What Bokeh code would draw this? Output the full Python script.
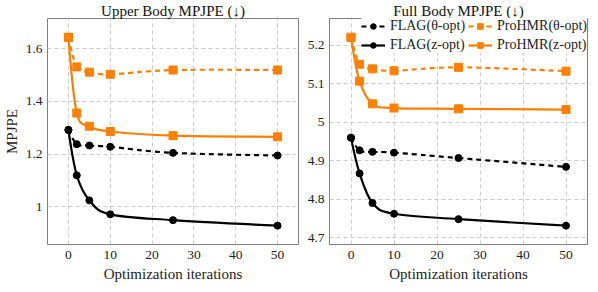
import numpy as np
from bokeh.plotting import figure
from bokeh.layouts import row
from bokeh.models import Range1d, FixedTicker, NumeralTickFormatter, Legend, LegendItem
from bokeh.embed import file_html
from bokeh.resources import INLINE

# ---- data ----
iters = [0, 2, 5, 10, 25, 50]
upper_flag_theta = [1.292, 1.238, 1.233, 1.228, 1.205, 1.195]
upper_flag_z = [1.292, 1.120, 1.025, 0.972, 0.950, 0.929]
upper_prohmr_theta = [1.643, 1.531, 1.511, 1.503, 1.519, 1.519]
upper_prohmr_z = [1.643, 1.356, 1.306, 1.286, 1.270, 1.266]
full_flag_theta = [4.960, 4.927, 4.923, 4.921, 4.907, 4.884]
full_flag_z = [4.960, 4.867, 4.790, 4.762, 4.748, 4.731]
full_prohmr_theta = [5.221, 5.151, 5.139, 5.134, 5.143, 5.133]
full_prohmr_z = [5.221, 5.107, 5.048, 5.037, 5.035, 5.033]

x_ticks = [0, 10, 20, 30, 40, 50]
upper_y_ticks = [1.0, 1.2, 1.4, 1.6]
full_y_ticks = [4.7, 4.8, 4.9, 5.0, 5.1, 5.2]

labels = ["FLAG(θ-opt)", "ProHMR(θ-opt)", "FLAG(z-opt)", "ProHMR(z-opt)"]
titles = ["Upper Body MPJPE (↓)", "Full Body MPJPE (↓)"]

ORANGE = "#ff8000"
BLACK = "#000000"
FONT = "Liberation Serif"
FIG_H = 284


def smooth_parts(xs, ys, k=0.17):
    xs = np.asarray(xs, float)
    ys = np.asarray(ys, float)
    n = len(xs)
    out = {key: [] for key in ["x0", "y0", "x1", "y1", "cx0", "cy0", "cx1", "cy1"]}
    for i in range(n - 1):
        x0, y0, x1, y1 = xs[i], ys[i], xs[i + 1], ys[i + 1]
        if i == 0:
            c0 = (x0, y0)
        else:
            c0 = (x0 + k * (xs[i + 1] - xs[i - 1]), y0 + k * (ys[i + 1] - ys[i - 1]))
        if i + 1 == n - 1:
            c1 = (x1, y1)
        else:
            c1 = (x1 - k * (xs[i + 2] - xs[i]), y1 - k * (ys[i + 2] - ys[i]))
        out["x0"].append(x0); out["y0"].append(y0)
        out["x1"].append(x1); out["y1"].append(y1)
        out["cx0"].append(c0[0]); out["cy0"].append(c0[1])
        out["cx1"].append(c1[0]); out["cy1"].append(c1[1])
    return out


def make_panel(title, series, y_ticks, width, border_left, border_right, ylabel=None, legend=False):
    ys_all = np.concatenate([np.asarray(s[0]) for s in series])
    lo, hi = ys_all.min(), ys_all.max()
    pad = 0.1 * (hi - lo)
    p = figure(width=width, height=FIG_H, output_backend="svg", toolbar_location=None,
               x_range=Range1d(-5, 55), y_range=Range1d(lo - pad, hi + pad),
               min_border_left=border_left, min_border_right=border_right,
               min_border_top=0, min_border_bottom=0)
    p.title.text = title
    p.title.text_font = FONT
    p.title.text_font_size = "15px"
    p.title.text_font_style = "normal"
    p.title.text_color = "#111111"
    p.title.align = "center"
    p.title.standoff = 0
    p.outline_line_color = "#808080"
    p.outline_line_width = 1
    p.background_fill_color = "white"
    p.border_fill_color = "white"
    for ax in (p.xaxis[0], p.yaxis[0]):
        ax.axis_line_color = None
        ax.major_tick_line_color = None
        ax.minor_tick_line_color = None
        ax.major_tick_in = 0
        ax.major_tick_out = 0
        ax.minor_tick_in = 0
        ax.minor_tick_out = 0
        ax.major_label_text_font = FONT
        ax.major_label_text_font_size = "13.5px"
        ax.major_label_text_color = "#222222"
        ax.major_label_standoff = 5
        ax.axis_label_text_font = FONT
        ax.axis_label_text_font_size = "15px"
        ax.axis_label_text_font_style = "normal"
        ax.axis_label_text_color = "#222222"
    p.xaxis.ticker = FixedTicker(ticks=x_ticks)
    p.yaxis.ticker = FixedTicker(ticks=y_ticks)
    p.yaxis.formatter = NumeralTickFormatter(format="0.[0]")
    p.xaxis.axis_label = "Optimization iterations"
    p.xaxis.major_label_standoff = 6
    p.xaxis.axis_label_standoff = 4
    if ylabel:
        p.yaxis.axis_label = ylabel
        p.yaxis.axis_label_standoff = 3
    p.grid.grid_line_color = "#cccccc"
    p.grid.grid_line_dash = "4 3"
    p.grid.grid_line_width = 1

    lines = []
    for vals, color, dash, marker, lab in series:
        parts = smooth_parts(iters, vals)
        br = p.bezier(x0=parts["x0"], y0=parts["y0"], x1=parts["x1"], y1=parts["y1"],
                      cx0=parts["cx0"], cy0=parts["cy0"], cx1=parts["cx1"], cy1=parts["cy1"],
                      line_color=color, line_width=2.2, line_dash=dash)
        lines.append(br)
    items = []
    for (vals, color, dash, marker, lab), br in zip(series, lines):
        sr = p.scatter(iters, vals, marker=marker, size=8 if marker == "square" else 7,
                       fill_color=color, line_color=color, line_width=1)
        items.append((lab, [br, sr]))
    if legend:
        order = [0, 2, 1, 3]
        leg = Legend(items=[LegendItem(label=items[i][0], renderers=items[i][1], index=0) for i in order],
                     location="top_right", ncols=2)
        leg.label_text_font = FONT
        leg.label_text_font_size = "14px"
        leg.label_text_color = "#222222"
        leg.glyph_width = 24
        leg.glyph_height = 14
        leg.label_height = 14
        leg.label_standoff = 5
        leg.spacing = 3
        leg.padding = 5
        leg.margin = 0
        leg.border_line_color = None
        leg.background_fill_color = "white"
        leg.background_fill_alpha = 1.0
        p.add_layout(leg)
    return p


left_series = [
    (upper_flag_theta, BLACK, "5 4", "circle", labels[0]),
    (upper_prohmr_theta, ORANGE, "5 4", "square", labels[1]),
    (upper_flag_z, BLACK, "solid", "circle", labels[2]),
    (upper_prohmr_z, ORANGE, "solid", "square", labels[3]),
]
right_series = [
    (full_flag_theta, BLACK, "5 4", "circle", labels[0]),
    (full_prohmr_theta, ORANGE, "5 4", "square", labels[1]),
    (full_flag_z, BLACK, "solid", "circle", labels[2]),
    (full_prohmr_z, ORANGE, "solid", "square", labels[3]),
]

left = make_panel(titles[0], left_series, upper_y_ticks, 304, 43, 6, ylabel="MPJPE")
right = make_panel(titles[1], right_series, full_y_ticks, 286, 25, 3, legend=True)

layout = row(left, right)
open("out.html", "w").write(file_html(layout, INLINE))
